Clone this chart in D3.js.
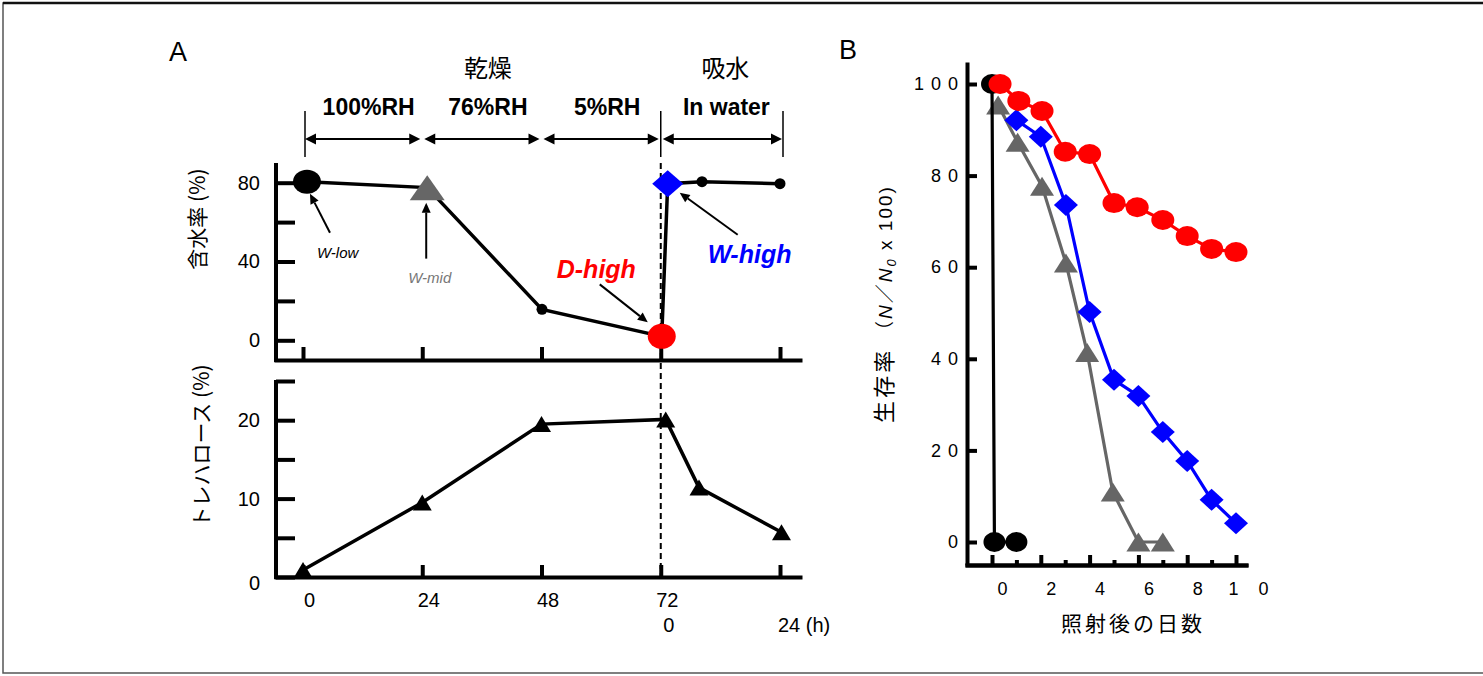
<!DOCTYPE html>
<html><head><meta charset="utf-8">
<script src="https://cdn.jsdelivr.net/npm/d3@7"></script>
<style>
body{margin:0;background:#fff}
svg{display:block}
text{font-family:"Liberation Sans",Arial,sans-serif;fill:#000}
.jp{font-family:"Noto Sans CJK JP","Liberation Sans",sans-serif}
</style>
</head><body>
<svg id="c" width="1483" height="676"></svg>
<script>
// ---------- DATA ----------
// Panel A (top): water content (%) vs time (h); times after 72 h are immersion in water
const hoursWater = [0.8, 25, 48.1, 72.2, 73.4, 80.3, 96];
const waterContent = [80.5, 77.5, 15.7, 2, 79.5, 80.5, 79.5];
// Panel A (bottom): trehalose (%)
const hoursTre = [0, 24, 48, 73, 79.7, 96.3];
const trehalose = [0.9, 9.5, 19.5, 20.1, 11.4, 5.7];
const yTicksWater = [0, 20, 40, 60, 80];
const yLabelsWater = [0, 40, 80];
const yTicksTre = [0, 5, 10, 15, 20, 25];
const yLabelsTre = [0, 10, 20];
const xTicksA = [0, 24, 48, 72, 96];
const xLabelsA = ["0", "24", "48", "72"];
const phaseBounds = [0, 24, 48, 72, 96];
const phaseLabels = ["100%RH", "76%RH", "5%RH", "In water"];
const groupLabels = ["乾燥", "吸水"];
const annotations = ["W-low", "W-mid", "D-high", "W-high"];

// Panel B: survival (%) vs days after irradiation
const daysBlack = [0, 0.1, 1];
const survBlack = [100, 0, 0];
const daysRed = [0.33, 1.1, 2.05, 3, 4, 5, 5.95, 7, 8, 9, 10];
const survRed = [100, 96.3, 94.1, 85.2, 84.7, 74.0, 73.1, 70.3, 66.8, 64.0, 63.3];
const daysGray = [0.25, 1.05, 2.05, 3.03, 3.9, 4.95, 6, 7];
const survGray = [95.4, 87.3, 77.7, 60.9, 41.4, 10.9, 0, 0];
const daysBlue = [1, 2, 3.03, 4, 5, 6, 7, 8, 9, 10];
const survBlue = [92.1, 88.5, 73.6, 50.2, 35.4, 31.9, 24.0, 17.7, 9.2, 4.1];
const yTicksB = [0, 20, 40, 60, 80, 100];
const xMajorB = [0, 2, 4, 6, 8, 10];
const xMinorB = [1, 3, 5, 7, 9];

// ---------- DRAW ----------
const svg = d3.select("#c");
const tri = (w, h) => `M0,${-h/2}L${w/2},${h/2}L${-w/2},${h/2}Z`;
const dia = (w, h) => `M0,${-h/2}L${w/2},0L0,${h/2}L${-w/2},0Z`;

// frame
svg.append("rect").attr("x", 3).attr("y", 3).attr("width", 1500).attr("height", 670)
  .attr("fill", "none").attr("stroke", "#555").attr("stroke-width", 1.5);
svg.append("line").attr("x1", 3).attr("x2", 1483).attr("y1", 3).attr("y2", 3)
  .attr("stroke", "#111").attr("stroke-width", 2.5);

// panel letters
svg.append("text").attr("x", 169).attr("y", 61).attr("font-size", 27).text("A");
svg.append("text").attr("x", 839).attr("y", 59).attr("font-size", 27).text("B");

// ----- Panel A scales -----
const xA = d3.scaleLinear().domain([0, 96]).range([303, 780]);
const xAaxis = xA.copy().domain([xA.invert(274), xA.invert(802)]).range([274, 802]);
const yW = d3.scaleLinear().domain([-10, 90]).range([360, 163]);
const yT = d3.scaleLinear().domain([0, 25]).range([577, 381]);

function styleAxis(g, w) {
  g.select(".domain").attr("stroke", "#000").attr("stroke-width", w);
  g.selectAll(".tick line").attr("stroke", "#000").attr("stroke-width", w);
  g.selectAll("text").attr("fill", "#000");
}

// dashed line at 72 h
svg.append("line").attr("x1", xA(72)).attr("x2", xA(72))
  .attr("y1", yW(90)).attr("y2", yT(0))
  .attr("stroke", "#000").attr("stroke-width", 2).attr("stroke-dasharray", "6,4");

// top panel axes
const gYW = svg.append("g").attr("transform", `translate(276,0)`)
  .call(d3.axisLeft(yW).tickValues(yTicksWater).tickSize(-19).tickSizeOuter(0).tickPadding(16)
    .tickFormat(d => yLabelsWater.includes(d) ? d : ""));
styleAxis(gYW, 4);
gYW.selectAll("text").attr("font-size", 20).attr("font-family", "Liberation Sans, Arial");
gYW.select(".domain").attr("d", `M0,${yW(90)}V${yW(-10) + 2}`);

const gXW = svg.append("g").attr("transform", `translate(0,360)`)
  .call(d3.axisBottom(xAaxis).tickValues(xTicksA).tickSize(-13).tickSizeOuter(0).tickFormat(""));
styleAxis(gXW, 4);

// bottom panel axes
const gYT = svg.append("g").attr("transform", `translate(276,0)`)
  .call(d3.axisLeft(yT).tickValues(yTicksTre).tickSize(-19).tickSizeOuter(0).tickPadding(16)
    .tickFormat(d => yLabelsTre.includes(d) ? d : ""));
styleAxis(gYT, 4);
gYT.selectAll("text").attr("font-size", 20).attr("font-family", "Liberation Sans, Arial");
gYT.selectAll(".tick").filter(d => d === 0).select("text").attr("dy", "0.6em");
gYT.select(".domain").attr("d", `M0,${yT(25) - 1}V${yT(0) + 2}`);

const gXT = svg.append("g").attr("transform", `translate(0,577)`)
  .call(d3.axisBottom(xAaxis).tickValues(xTicksA).tickSize(-12).tickSizeOuter(0).tickPadding(16)
    .tickFormat((d, i) => xLabelsA[i] || ""));
styleAxis(gXT, 4);
gXT.selectAll("text").attr("font-size", 20).attr("dx", 6);

// second-row labels for water immersion time
svg.append("text").attr("x", xA(72) + 8).attr("y", 632).attr("font-size", 20)
  .attr("text-anchor", "middle").text("0");
svg.append("text").attr("x", xA(96) - 2).attr("y", 632).attr("font-size", 20).text("24 (h)");

// y-axis labels
svg.append("text").attr("class", "jp").attr("font-size", 21)
  .attr("transform", "translate(205,219) rotate(-90)").attr("text-anchor", "middle")
  .text("含水率 (%)");
svg.append("text").attr("class", "jp").attr("font-size", 21)
  .attr("transform", "translate(209,446) rotate(-90)").attr("text-anchor", "middle")
  .text("トレハロース (%)");

// header brackets
const hy = 139;
[0, 3, 4].forEach(i => {
  const x = xA(phaseBounds[i]) + (i === 0 ? 2 : i === 4 ? 3 : 0);
  svg.append("line").attr("x1", x).attr("x2", x).attr("y1", 111).attr("y2", 157)
    .attr("stroke", "#000").attr("stroke-width", 1.5);
});
function arrowHead(x, y, dir) { // dir: +1 pointing right, -1 pointing left
  svg.append("path").attr("d", `M${x},${y}L${x - dir * 11},${y - 5.5}L${x - dir * 11},${y + 5.5}Z`)
    .attr("fill", "#000");
}
for (let i = 0; i < 4; i++) {
  const x0 = xA(phaseBounds[i]) + 2;
  const x1 = xA(phaseBounds[i + 1]) + (i === 3 ? 2 : -2);
  svg.append("line").attr("x1", x0 + 4).attr("x2", x1 - 4).attr("y1", hy).attr("y2", hy)
    .attr("stroke", "#000").attr("stroke-width", 2.2);
  arrowHead(x0, hy, -1);
  arrowHead(x1, hy, 1);
  svg.append("text").attr("x", (xA(phaseBounds[i]) + xA(phaseBounds[i + 1])) / 2 + 6)
    .attr("y", 115).attr("font-size", 23).attr("font-weight", "bold")
    .attr("text-anchor", "middle").text(phaseLabels[i]);
}
svg.append("text").attr("class", "jp").attr("x", xA(36) + 6).attr("y", 77).attr("font-size", 24)
  .attr("text-anchor", "middle").text(groupLabels[0]);
svg.append("text").attr("class", "jp").attr("x", xA(84) + 5).attr("y", 77).attr("font-size", 24)
  .attr("text-anchor", "middle").text(groupLabels[1]);

// water content line + markers
const ptsW = hoursWater.map((h, i) => [xA(h), yW(waterContent[i])]);
svg.append("path").attr("d", d3.line()(ptsW)).attr("fill", "none")
  .attr("stroke", "#000").attr("stroke-width", 3.5);
const mW = svg.append("g");
ptsW.forEach((p, i) => {
  const g = mW.append("g").attr("transform", `translate(${p[0]},${p[1]})`);
  if (i === 0) g.append("ellipse").attr("rx", 14).attr("ry", 12).attr("fill", "#000");
  else if (i === 1) g.append("path").attr("d", tri(35, 25)).attr("fill", "#666");
  else if (i === 3) g.append("ellipse").attr("rx", 14).attr("ry", 12.5).attr("fill", "#ff0000");
  else if (i === 4) g.append("path").attr("d", dia(31, 27)).attr("fill", "#0000ff");
  else g.append("circle").attr("r", 5.5).attr("fill", "#000");
});

// annotation arrows
function annArrow(x1, y1, x2, y2) {
  const a = Math.atan2(y2 - y1, x2 - x1), L = 10, W = 4.5;
  const bx = x2 - L * Math.cos(a), by = y2 - L * Math.sin(a);
  svg.append("line").attr("x1", x1).attr("y1", y1).attr("x2", bx).attr("y2", by)
    .attr("stroke", "#000").attr("stroke-width", 2);
  svg.append("path").attr("d",
    `M${x2},${y2}L${bx - W * Math.sin(a)},${by + W * Math.cos(a)}L${bx + W * Math.sin(a)},${by - W * Math.cos(a)}Z`)
    .attr("fill", "#000");
}
annArrow(ptsW[0][0] + 23, ptsW[0][1] + 51, ptsW[0][0] + 3, ptsW[0][1] + 12);
svg.append("text").attr("x", ptsW[0][0] + 10).attr("y", ptsW[0][1] + 76).attr("font-size", 15)
  .attr("font-style", "italic").text(annotations[0]);
annArrow(ptsW[1][0] - 1, ptsW[1][1] + 71, ptsW[1][0] - 1, ptsW[1][1] + 15);
svg.append("text").attr("x", ptsW[1][0] - 19).attr("y", ptsW[1][1] + 95).attr("font-size", 15)
  .attr("font-style", "italic").style("fill", "#777").text(annotations[1]);
annArrow(ptsW[3][0] - 62, ptsW[3][1] - 52, ptsW[3][0] - 14, ptsW[3][1] - 14);
svg.append("text").attr("x", ptsW[3][0] - 105).attr("y", ptsW[3][1] - 58).attr("font-size", 25)
  .attr("font-weight", "bold").attr("font-style", "italic").style("fill", "#ff0000").text(annotations[2]);
annArrow(ptsW[4][0] + 70, ptsW[4][1] + 51, ptsW[4][0] + 12, ptsW[4][1] + 9);
svg.append("text").attr("x", ptsW[4][0] + 40).attr("y", ptsW[4][1] + 79).attr("font-size", 25)
  .attr("font-weight", "bold").attr("font-style", "italic").style("fill", "#0000ff").text(annotations[3]);

// trehalose line + markers
const ptsT = hoursTre.map((h, i) => [xA(h), yT(trehalose[i])]);
svg.append("path").attr("d", d3.line()(ptsT)).attr("fill", "none")
  .attr("stroke", "#000").attr("stroke-width", 3.5);
svg.append("g").selectAll("path").data(ptsT).join("path")
  .attr("transform", d => `translate(${d[0]},${d[1]})`).attr("d", tri(19, 16)).attr("fill", "#000");

// ----- Panel B -----
const xB = d3.scaleLinear().domain([0, 10]).range([992, 1236]);
const xBaxis = xB.copy().domain([xB.invert(965), xB.invert(1248)]).range([965, 1248]);
const yB = d3.scaleLinear().domain([0, 100]).range([542, 84]);
const yBaxis = yB.copy().domain([yB.invert(565), yB.invert(62)]).range([565, 62]);

const gYB = svg.append("g").attr("transform", "translate(967,0)")
  .call(d3.axisLeft(yBaxis).tickValues(yTicksB).tickSize(-10).tickSizeOuter(0).tickPadding(2));
styleAxis(gYB, 4);
gYB.selectAll("text").attr("font-size", 18).attr("letter-spacing", "7px");
gYB.select(".domain").attr("stroke-width", 4);

const gXBm = svg.append("g").attr("transform", "translate(0,565)")
  .call(d3.axisBottom(xBaxis).tickValues(xMinorB).tickSize(-5).tickSizeOuter(0).tickFormat(""));
styleAxis(gXBm, 4);
const gXB = svg.append("g").attr("transform", "translate(0,565)")
  .call(d3.axisBottom(xBaxis).tickValues(xMajorB).tickSize(-10).tickSizeOuter(0).tickPadding(17));
styleAxis(gXB, 4);
gXB.selectAll("text").attr("font-size", 18).attr("dx", 10);
gXB.selectAll(".tick").filter(d => d === 10).select("text")
  .attr("letter-spacing", "20px").attr("dx", 22);

svg.append("text").attr("class", "jp").attr("x", 1133).attr("y", 631).attr("font-size", 21)
  .attr("letter-spacing", "3px").attr("text-anchor", "middle").text("照射後の日数");

const yl = svg.append("text").attr("font-size", 19)
  .attr("transform", "translate(892,304) rotate(-90)").attr("text-anchor", "middle")
  .attr("letter-spacing", "2px");
yl.append("tspan").attr("class", "jp").attr("font-size", 22).attr("letter-spacing", "3px").text("生存率 ");
yl.append("tspan").attr("class", "jp").text("（");
yl.append("tspan").attr("font-style", "italic").text("N");
yl.append("tspan").attr("class", "jp").text("／");
yl.append("tspan").attr("font-style", "italic").text("N");
yl.append("tspan").attr("font-style", "italic").attr("font-size", 13).attr("dy", 4).text("0");
yl.append("tspan").attr("dy", -4).text(" x 100)");

const lineB = d3.line();
function series(days, vals, color) {
  const pts = days.map((d, i) => [xB(d), yB(vals[i])]);
  svg.append("path").attr("d", lineB(pts)).attr("fill", "none")
    .attr("stroke", color).attr("stroke-width", 3.2);
  return pts;
}
const pG = series(daysGray, survGray, "#666");
svg.append("g").selectAll("path").data(pG).join("path")
  .attr("transform", d => `translate(${d[0]},${d[1]})`).attr("d", tri(24, 19)).attr("fill", "#666");
const pBl = series(daysBlue, survBlue, "#0000ff");
svg.append("g").selectAll("path").data(pBl).join("path")
  .attr("transform", d => `translate(${d[0]},${d[1]})`).attr("d", dia(24, 22)).attr("fill", "#0000ff");
const pK = series(daysBlack, survBlack, "#000");
svg.append("g").selectAll("ellipse").data(pK).join("ellipse")
  .attr("cx", d => d[0]).attr("cy", d => d[1]).attr("rx", 11).attr("ry", 10).attr("fill", "#000");
const pR = series(daysRed, survRed, "#ff0000");
svg.append("g").selectAll("ellipse").data(pR).join("ellipse")
  .attr("cx", d => d[0]).attr("cy", d => d[1]).attr("rx", 11.5).attr("ry", 10).attr("fill", "#ff0000");
</script>
</body></html>
